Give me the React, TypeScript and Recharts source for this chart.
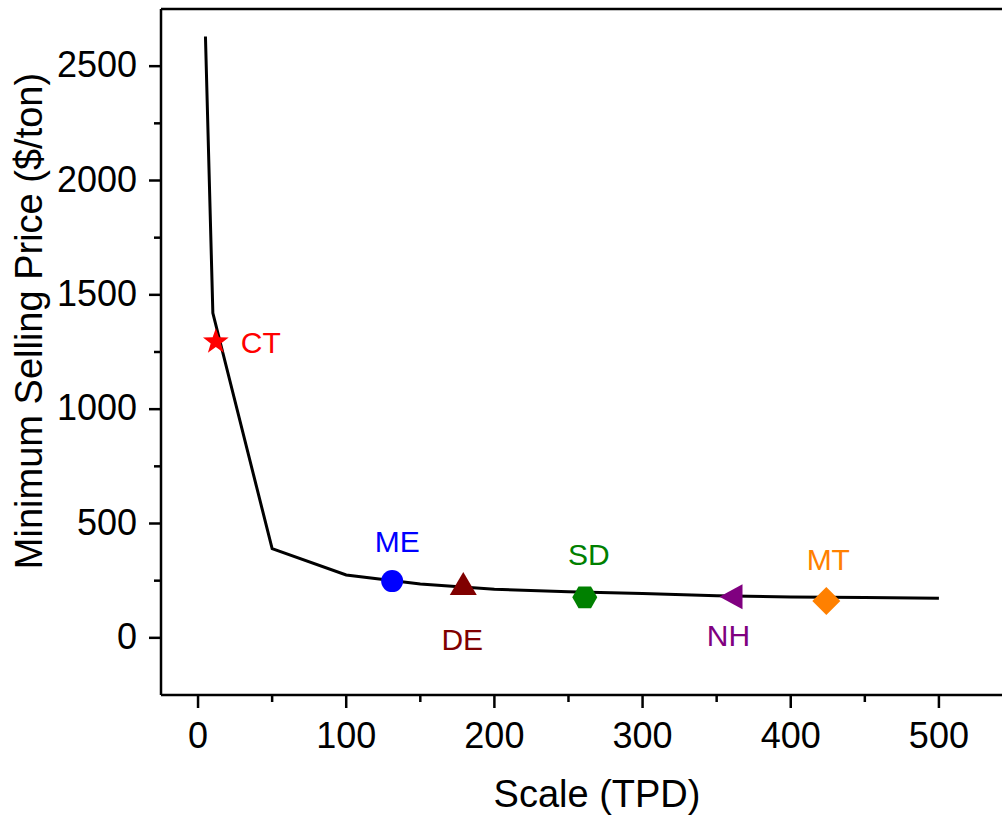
import { ComposedChart, Line, Scatter, XAxis, YAxis, ReferenceLine } from 'recharts'

// cost curve: scale (TPD) vs minimum selling price ($/ton)
const curveScale = [5, 10, 50, 100, 150, 200, 250, 300, 350, 400, 450, 500]
const curvePrice = [2630, 1420, 390, 275, 235, 212, 202, 194, 184, 179, 176, 173]

// individual sites
const siteNames = ['CT', 'ME', 'DE', 'SD', 'NH', 'MT']
const siteScale = [12, 131, 179, 261, 360, 424]
const sitePrice = [1295, 248, 238, 177, 180, 161]

const X_TICKS = [0, 50, 100, 150, 200, 250, 300, 350, 400, 450, 500]
const Y_TICKS = [0, 250, 500, 750, 1000, 1250, 1500, 1750, 2000, 2250, 2500]
const X_DOMAIN = [-25, 550]
const Y_DOMAIN = [-250, 2750]

const FONT = "Arial, 'Liberation Sans', sans-serif"

const lineData = curveScale.map((x, i) => ({ x, y: curvePrice[i] }))
const siteData = siteNames.map((name, i) => ({ name, x: siteScale[i], y: sitePrice[i] }))

// symbol / colour / label placement per site (label offset from marker centre)
const SITE_STYLE: Record<string, { color: string; symbol: string; dx: number; dy: number; anchor: string }> = {
  CT: { color: '#FF0000', symbol: 'star', dx: 25, dy: 0, anchor: 'start' },
  ME: { color: '#0000FF', symbol: 'circle', dx: 5, dy: -40, anchor: 'middle' },
  DE: { color: '#800000', symbol: 'triangle', dx: -1, dy: 56, anchor: 'middle' },
  SD: { color: '#008000', symbol: 'hexagon', dx: 4, dy: -43, anchor: 'middle' },
  NH: { color: '#800080', symbol: 'left', dx: -3, dy: 38, anchor: 'middle' },
  MT: { color: '#FF8000', symbol: 'diamond', dx: 2, dy: -42, anchor: 'middle' },
}

function poly(pts: number[][]) {
  return pts.map((p, i) => `${i ? 'L' : 'M'}${p[0]},${p[1]}`).join(' ') + ' Z'
}

function starPts(cx: number, cy: number, R: number, r: number) {
  const pts: number[][] = []
  for (let i = 0; i < 10; i++) {
    const a = -Math.PI / 2 + (i * Math.PI) / 5
    const rad = i % 2 === 0 ? R : r
    pts.push([cx + rad * Math.cos(a), cy + rad * Math.sin(a)])
  }
  return pts
}

function SiteMarker(props: any) {
  const { cx, cy, payload } = props
  const s = SITE_STYLE[payload.name]
  let shape
  if (s.symbol === 'circle') shape = <circle cx={cx} cy={cy} r={11} fill={s.color} />
  else if (s.symbol === 'star') shape = <path d={poly(starPts(cx, cy, 13.5, 5.4))} fill={s.color} />
  else if (s.symbol === 'triangle')
    shape = <path d={poly([[cx, cy - 11.5], [cx + 13.5, cy + 11.5], [cx - 13.5, cy + 11.5]])} fill={s.color} />
  else if (s.symbol === 'left')
    shape = <path d={poly([[cx - 12, cy], [cx + 11, cy - 12.5], [cx + 11, cy + 12.5]])} fill={s.color} />
  else if (s.symbol === 'diamond')
    shape = <path d={poly([[cx, cy - 14], [cx + 14, cy], [cx, cy + 14], [cx - 14, cy]])} fill={s.color} />
  else {
    const pts = [0, 1, 2, 3, 4, 5].map((k) => [cx + 12.5 * Math.cos((k * Math.PI) / 3), cy + 12.5 * Math.sin((k * Math.PI) / 3)])
    shape = <path d={poly(pts)} fill={s.color} />
  }
  return (
    <g>
      {shape}
      <text x={cx + s.dx} y={cy + s.dy + 11} textAnchor={s.anchor} fill={s.color} fontSize={30} fontFamily={FONT}>
        {payload.name}
      </text>
    </g>
  )
}

function XTick(props: any) {
  const { x, y, payload } = props
  const major = payload.value % 100 === 0
  return (
    <g>
      <line x1={x} x2={x} y1={y} y2={y + (major ? 13 : 7)} stroke="#000" strokeWidth={2.5} />
      {major && (
        <text x={x} y={y + 53} textAnchor="middle" fontSize={36} fontFamily={FONT} fill="#000">
          {payload.value}
        </text>
      )}
    </g>
  )
}

function YTick(props: any) {
  const { x, y, payload } = props
  const major = payload.value % 500 === 0
  return (
    <g>
      <line x1={x - (major ? 12 : 7)} x2={x} y1={y} y2={y} stroke="#000" strokeWidth={2.5} />
      {major && (
        <text x={x - 24} y={y + 11} textAnchor="end" fontSize={36} fontFamily={FONT} fill="#000">
          {payload.value}
        </text>
      )}
    </g>
  )
}

export default function App() {
  return (
    <div style={{ position: 'absolute', left: 0, top: 0, width: 1002, height: 816, overflow: 'hidden', background: '#fff' }}>
      <ComposedChart width={1030} height={816} margin={{ top: 9, right: 17, left: 0, bottom: 0 }}>
        <XAxis
          type="number"
          dataKey="x"
          domain={X_DOMAIN}
          ticks={X_TICKS}
          interval={0}
          allowDataOverflow
          height={121}
          tickSize={0}
          tickMargin={0}
          tickLine={false}
          axisLine={{ stroke: '#000', strokeWidth: 2.5 }}
          tick={<XTick />}
        />
        <YAxis
          type="number"
          dataKey="y"
          domain={Y_DOMAIN}
          ticks={Y_TICKS}
          interval={0}
          allowDataOverflow
          width={161}
          tickSize={0}
          tickMargin={0}
          tickLine={false}
          axisLine={{ stroke: '#000', strokeWidth: 2.5 }}
          tick={<YTick />}
        />
        <ReferenceLine y={Y_DOMAIN[1]} stroke="#000" strokeWidth={2.5} />
        <Line
          data={lineData}
          dataKey="y"
          type="linear"
          stroke="#000"
          strokeWidth={3}
          dot={false}
          isAnimationActive={false}
        />
        <Scatter data={siteData} dataKey="y" shape={<SiteMarker />} isAnimationActive={false} />
        <text x={597} y={807} textAnchor="middle" fontSize={38} fontFamily={FONT} fill="#000">
          Scale (TPD)
        </text>
        <text
          x={42}
          y={321}
          transform="rotate(-90 42 321)"
          textAnchor="middle"
          fontSize={38}
          fontFamily={FONT}
          fill="#000"
        >
          Minimum Selling Price ($/ton)
        </text>
      </ComposedChart>
    </div>
  )
}
